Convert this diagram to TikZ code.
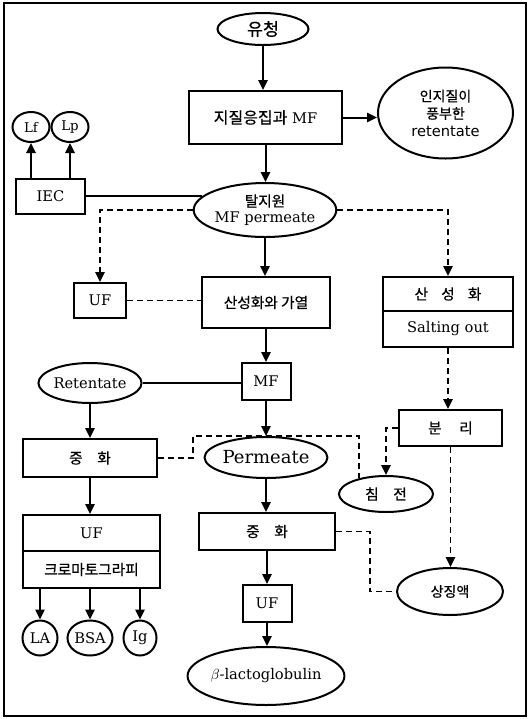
\documentclass[tikz,border=0pt]{standalone}
\usepackage{fontspec}
\setmainfont{DejaVu Serif}
\newfontfamily\kr[FakeBold=0.6]{Noto Sans CJK KR}
\newfontfamily\lsans{DejaVu Sans}
\usetikzlibrary{shapes.geometric,arrows.meta}

\tikzset{
  sz/.style 2 args={minimum width=#1*0.75pt, minimum height=#2*0.75pt},
  box/.style={draw, rectangle, inner sep=0pt, line width=1.5pt, align=center},
  oval/.style={draw, ellipse, inner sep=0pt, line width=1.5pt, align=center},
  arr/.style={line width=1.5pt, -{Triangle[length=7.5pt,width=7pt]}},
  dline/.style={line width=1.3pt, dash pattern=on 4.5pt off 3pt},
  darr/.style={dline, -{Triangle[length=7.5pt,width=7pt]}},
  conn/.style={line width=1.5pt},
  krt/.style={font=\kr\fontsize{11}{14}\selectfont},
}

\begin{document}
\begin{tikzpicture}[x=0.75pt, y=-0.75pt, font=\fontsize{11}{14}\selectfont]
  \fill[white] (0,0) rectangle (529,719);
  \useasboundingbox (0,0) rectangle (529,719);
  \draw[line width=2.2pt] (4,3) rectangle (526,716);

  % main column
  \node[oval, sz={91}{32}, font=\kr\fontsize{13}{15}\selectfont] (whey) at (263,29) {유청};
  \node[box, sz={153}{53}] (agg) at (265.5,117.5) {{\kr\fontsize{12}{14}\selectfont 지질응집과} MF};
  \node[oval, sz={135}{91}] (rich) at (445.5,113) {\kr\fontsize{10.5}{13}\selectfont 인지질이\\[-1pt]\kr\fontsize{10.5}{13}\selectfont 풍부한\\[-1pt]\lsans retentate};
  \node[oval, sz={136}{54}] (skim) at (265,210) {{\kr 탈지원}\\[-2pt]MF permeate};
  \node[box, sz={69}{35}] (iec) at (50.5,196) {IEC};
  \node[oval, sz={37}{30}, font=\fontsize{10}{12}\selectfont] (lf) at (31,127) {Lf};
  \node[oval, sz={37}{30}, font=\fontsize{10}{12}\selectfont] (lp) at (70,127) {Lp};

  \node[box, sz={52}{35}] (uf1) at (100,300.5) {UF};
  \node[box, sz={128}{51}, krt] (heat) at (266,302.5) {산성화와 가열};
  \node[box, sz={130}{34}, krt] (acida) at (448,294) {산\hspace{0.9em}성\hspace{0.9em}화};
  \node[box, sz={130}{36}] (acidb) at (448,329) {Salting out};

  \node[box, sz={49}{37}] (mf2) at (266,381.5) {MF};
  \node[oval, sz={92}{40}] (ret) at (90,383) {Retentate};
  \node[box, sz={103}{36}, krt] (sep) at (450.5,428) {분\hspace{1.2em}리};

  \node[box, sz={134}{38}, krt] (neut1) at (90,458) {중\hspace{1em}화};
  \node[oval, sz={94}{41}, font=\fontsize{13.5}{16}\selectfont] (perm) at (266,457.5) {Permeate};
  \node[oval, sz={94}{36}, krt] (precip) at (386,494) {침\hspace{1em}전};

  \node[box, sz={137}{36}] (uf3a) at (91.5,533) {UF};
  \node[box, sz={137}{37}, krt] (uf3b) at (91.5,569.5) {크로마토그라피};
  \node[oval, sz={35}{35}] (la) at (40,638) {LA};
  \node[oval, sz={45}{35}] (bsa) at (90,638) {BSA};
  \node[oval, sz={33}{35}] (ig) at (140,638) {Ig};

  \node[box, sz={136}{37}, krt] (neut2) at (267,531.5) {중\hspace{1em}화};
  \node[box, sz={49}{37}] (uf4) at (267,603.5) {UF};
  \node[oval, sz={136}{58}] (blg) at (266,676) {$\beta$-lactoglobulin};
  \node[oval, sz={106}{47}, font=\kr\fontsize{10.5}{14}\selectfont] (super) at (450,591.5) {상징액};

  % bend points of the dashed side lines
  \coordinate (k1) at (193,436);
  \coordinate (k3) at (370,591.5);

  % solid flow
  \draw[arr] (whey.south) -- (whey.south |- agg.north);
  \draw[arr] (agg.east) -- (agg.east -| rich.west);
  \draw[arr] (agg.south) -- (agg.south |- skim.north);
  \draw[conn] (iec.east) -- (iec.east -| skim.168);
  \draw[arr] (iec.north -| lf.south) -- (lf.south);
  \draw[arr] (iec.north -| lp.south) -- (lp.south);
  \draw[arr] (skim.south) -- (skim.south |- heat.north);
  \draw[arr] (heat.south) -- (heat.south |- mf2.north);
  \draw[conn] (ret.east) -- (ret.east -| mf2.west);
  \draw[arr] (mf2.south) -- (mf2.south |- perm.north);
  \draw[arr] (ret.south) -- (ret.south |- neut1.north);
  \draw[arr] (neut1.south) -- (neut1.south |- uf3a.north);
  \draw[arr] (uf3b.south -| la.north) -- (la.north);
  \draw[arr] (uf3b.south -| bsa.north) -- (bsa.north);
  \draw[arr] (uf3b.south -| ig.north) -- (ig.north);
  \draw[arr] (perm.south) -- (perm.south |- neut2.north);
  \draw[arr] (neut2.south) -- (neut2.south |- uf4.north);
  \draw[arr] (uf4.south) -- (uf4.south |- blg.north);

  % dashed side branches
  \draw[darr] (skim.west) -| (uf1.north);
  \draw[darr] (skim.east) -| (acida.north);
  \draw[dline] (uf1.east) -- (uf1.east -| heat.west);
  \draw[darr] (acidb.south) -- (acidb.south |- sep.north);
  \draw[darr] (sep.west) -| (precip.north);
  \draw[darr] (sep.south) -- (sep.south |- super.north);
  \draw[dline] (neut1.east) -| (k1) -| (precip.150);
  \draw[dline] (neut2.east) -| (k3) -- (super.west);
\end{tikzpicture}
\end{document}
